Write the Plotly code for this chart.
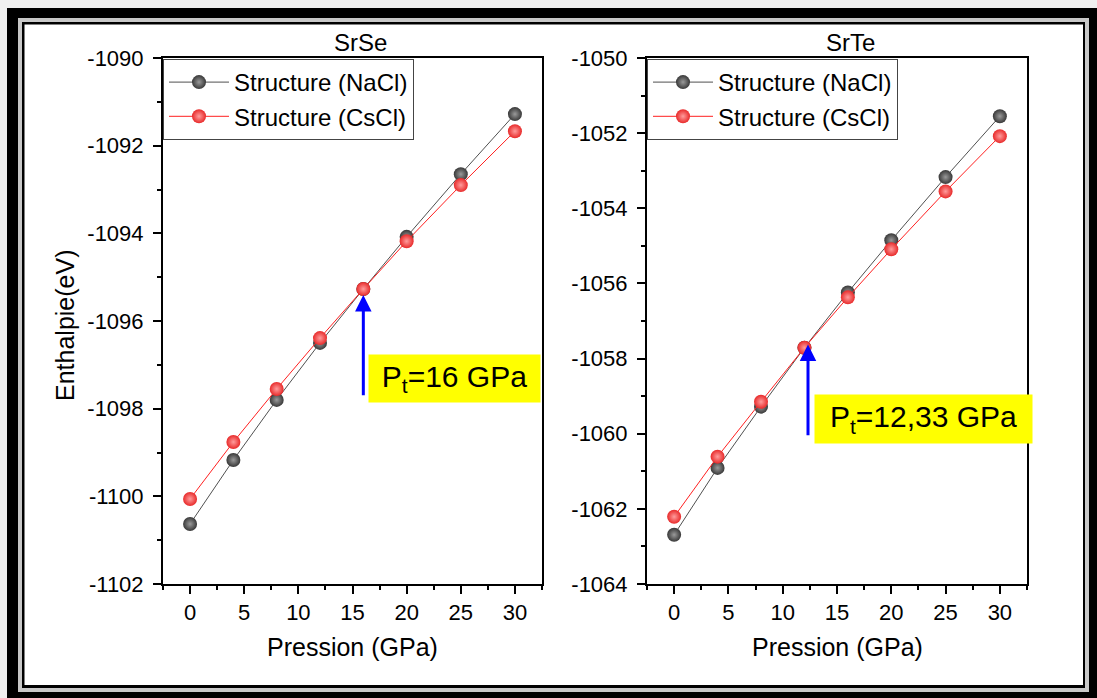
import numpy as np
import plotly.graph_objects as go

W, H = 1097, 698

# ---- data ----
pressure = [0, 4, 8, 12, 16, 20, 25, 30]
srse_nacl = [-1100.63, -1099.17, -1097.80, -1096.50, -1095.27, -1094.08, -1092.65, -1091.28]
srse_cscl = [-1100.06, -1098.76, -1097.55, -1096.39, -1095.27, -1094.18, -1092.90, -1091.67]
srte_nacl = [-1062.69, -1060.91, -1059.28, -1057.71, -1056.24, -1054.85, -1053.17, -1051.55]
srte_cscl = [-1062.21, -1060.61, -1059.15, -1057.71, -1056.37, -1055.09, -1053.55, -1052.08]
series_names = ["Structure (NaCl)", "Structure (CsCl)"]
panel_titles = ["SrSe", "SrTe"]
transition_p = [16, 12.33]
transition_labels = ["P<sub>t</sub>=16 GPa", "P<sub>t</sub>=12,33 GPa"]
x_ticks = [0, 5, 10, 15, 20, 25, 30]
srse_yticks = [-1102, -1100, -1098, -1096, -1094, -1092, -1090]
srte_yticks = [-1064, -1062, -1060, -1058, -1056, -1054, -1052, -1050]

FONT = "Liberation Sans, Arial, sans-serif"
GRAY = "#383838"
RED = "#e82a2a"

def px(x):
    return x / W

def py(y):
    return 1 - y / H

fig = go.Figure()

def add_pair(nacl, cscl, xa, ya, leg):
    fig.add_trace(go.Scatter(
        x=pressure, y=nacl, name=series_names[0], mode="lines+markers",
        line=dict(color="#505050", width=1),
        marker=dict(size=14, color=GRAY, gradient=dict(type="radial", color="#9a9a9a"),
                    line=dict(width=0)),
        xaxis=xa, yaxis=ya, legend=leg))
    fig.add_trace(go.Scatter(
        x=pressure, y=cscl, name=series_names[1], mode="lines+markers",
        line=dict(color="#ff2020", width=1),
        marker=dict(size=14, color=RED, gradient=dict(type="radial", color="#ff9c9c"),
                    line=dict(width=0)),
        xaxis=xa, yaxis=ya, legend=leg))

add_pair(srse_nacl, srse_cscl, "x", "y", "legend")
add_pair(srte_nacl, srte_cscl, "x2", "y2", "legend2")

ydom = [py(584), py(58)]
axis_common = dict(
    showline=True, linecolor="black", linewidth=2, mirror=True,
    ticks="outside", ticklen=8, tickwidth=1.5, tickcolor="black",
    showgrid=False, zeroline=False, automargin=False,
    tickfont=dict(family=FONT, size=22, color="black"),
)
xaxis_common = dict(axis_common, range=[-2.5, 32.5], tickmode="array",
                    tickvals=x_ticks, ticktext=[str(v) for v in x_ticks],
                    minor=dict(ticks="outside", ticklen=4, dtick=2.5, tick0=0,
                               tickcolor="black", tickwidth=1.5, showgrid=False))
ymin = dict(ticks="outside", ticklen=4, dtick=1, tick0=0, tickcolor="black",
            tickwidth=1.5, showgrid=False)
fig.update_layout(
    xaxis=dict(xaxis_common, domain=[px(163), px(542)], anchor="y"),
    yaxis=dict(axis_common, domain=ydom, anchor="x", range=[-1102, -1090],
               tickmode="array", tickvals=srse_yticks, ticklabelstandoff=5,
               ticktext=[str(v) for v in srse_yticks], minor=ymin),
    xaxis2=dict(xaxis_common, domain=[px(647), px(1027)], anchor="y2"),
    yaxis2=dict(axis_common, domain=ydom, anchor="x2", range=[-1064, -1050],
                tickmode="array", tickvals=srte_yticks, ticklabelstandoff=5,
                ticktext=[str(v) for v in srte_yticks], minor=ymin),
)

leg_common = dict(
    bgcolor="white", bordercolor="#444444", borderwidth=1,
    font=dict(family=FONT, size=24, color="black"),
    xanchor="left", yanchor="top", itemwidth=60, tracegroupgap=0,
)
fig.update_layout(
    legend=dict(leg_common, x=px(163), y=py(59)),
    legend2=dict(leg_common, x=px(647), y=py(59)),
)

# frame
shapes = [
    dict(type="rect", xref="paper", yref="paper", x0=px(7), x1=px(1097), y0=py(698), y1=py(8),
         fillcolor="black", line=dict(width=0), layer="below"),
    dict(type="rect", xref="paper", yref="paper", x0=px(18), x1=px(1089), y0=py(692), y1=py(18),
         fillcolor="#c8c8c8", line=dict(width=0), layer="below"),
    dict(type="rect", xref="paper", yref="paper", x0=px(22), x1=px(1085), y0=py(688), y1=py(22),
         fillcolor="black", line=dict(width=0), layer="below"),
    dict(type="rect", xref="paper", yref="paper", x0=px(24.5), x1=px(1083), y0=py(685), y1=py(24.5),
         fillcolor="white", line=dict(width=0), layer="below"),
]

def label(text, x, y, size, **kw):
    d = dict(text=text, xref="paper", yref="paper", x=px(x), y=py(y),
             xanchor="center", yanchor="middle", showarrow=False,
             font=dict(family=FONT, size=size, color="black"))
    d.update(kw)
    return d

annotations = []
for t, xc in zip(panel_titles, [360, 850]):
    annotations.append(label(t, xc, 43, 24))
for xc in [352, 837]:
    annotations.append(label("Pression (GPa)", xc, 647, 25))
annotations.append(label("Enthalpie(eV)", 65, 326, 25, textangle=-90))

# transition arrows
tip_se = float(np.interp(transition_p[0], pressure, srse_cscl))
tip_te = float(np.interp(transition_p[1], pressure, srte_cscl))
annotations.append(dict(x=transition_p[0], y=tip_se, xref="x", yref="y",
                        ax=transition_p[0], ay=-1097.73, axref="x", ayref="y",
                        text="", showarrow=True, arrowhead=2, arrowsize=1.1, arrowwidth=3,
                        arrowcolor="#0000ff", standoff=6))
annotations.append(dict(x=transition_p[1], y=tip_te, xref="x2", yref="y2",
                        ax=transition_p[1], ay=-1060.08, axref="x2", ayref="y2",
                        text="", showarrow=True, arrowhead=2, arrowsize=1.1, arrowwidth=3,
                        arrowcolor="#0000ff", standoff=1))
annotations.append(label(transition_labels[0], 454.5, 378.5, 30, bgcolor="#ffff00",
                         width=167, height=43, borderpad=2))
annotations.append(label(transition_labels[1], 923.5, 419, 30, bgcolor="#ffff00",
                         width=213, height=44, borderpad=2))

fig.update_layout(
    width=W, height=H, autosize=False,
    margin=dict(l=0, r=0, t=0, b=0, pad=0, autoexpand=False),
    paper_bgcolor="#f0f0f0", plot_bgcolor="white",
    shapes=shapes, annotations=annotations,
    font=dict(family=FONT, color="black"),
)

fig.write_html("out.html")
